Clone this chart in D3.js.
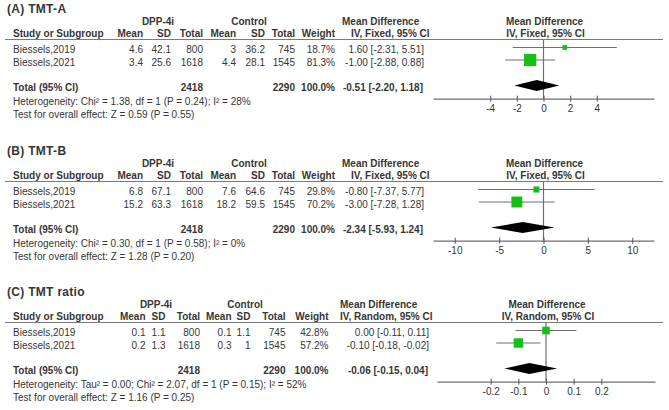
<!DOCTYPE html>
<html>
<head>
<meta charset="utf-8">
<script src="https://cdn.jsdelivr.net/npm/d3@7"></script>
<style>
  body { margin: 0; background: #fff; }
  svg { display: block; font-family: "Liberation Sans", Arial, sans-serif; }
  text { fill: #363636; }
  .bold { font-weight: bold; }
</style>
</head>
<body>
<svg width="669" height="410"></svg>
<script>
// data
var panelTitles = ["(A) TMT-A", "(B) TMT-B", "(C) TMT ratio"];
var studies = ["Biessels,2019", "Biessels,2021"];
var dppMean = [[4.6, 3.4], [6.8, 15.2], [0.1, 0.2]];
var dppSD = [[42.1, 25.6], [67.1, 63.3], [1.1, 1.3]];
var dppTotal = [800, 1618];
var ctlMean = [[3, 4.4], [7.6, 18.2], [0.1, 0.3]];
var ctlSD = [[36.2, 28.1], [64.6, 59.5], [1.1, 1]];
var ctlTotal = [745, 1545];
var weights = [[18.7, 81.3], [29.8, 70.2], [42.8, 57.2]];
var md = [[1.60, -1.00], [-0.80, -3.00], [0.00, -0.10]];
var ciLow = [[-2.31, -2.88], [-7.37, -7.28], [-0.11, -0.18]];
var ciHigh = [[5.51, 0.88], [5.77, 1.28], [0.11, -0.02]];
var totalMD = [-0.51, -2.34, -0.06];
var totalLow = [-2.20, -5.93, -0.15];
var totalHigh = [1.18, 1.24, 0.04];
var dppSum = 2418, ctlSum = 2290;
var methods = ["IV, Fixed, 95% CI", "IV, Fixed, 95% CI", "IV, Random, 95% CI"];
var heterogeneity = [
  "Heterogeneity: Chi\u00b2 = 1.38, df = 1 (P = 0.24); I\u00b2 = 28%",
  "Heterogeneity: Chi\u00b2 = 0.30, df = 1 (P = 0.58); I\u00b2 = 0%",
  "Heterogeneity: Tau\u00b2 = 0.00; Chi\u00b2 = 2.07, df = 1 (P = 0.15); I\u00b2 = 52%"
];
var overallEffect = [
  "Test for overall effect: Z = 0.59 (P = 0.55)",
  "Test for overall effect: Z = 1.28 (P = 0.20)",
  "Test for overall effect: Z = 1.16 (P = 0.25)"
];
var tickValues = [[-4, -2, 0, 2, 4], [-10, -5, 0, 5, 10], [-0.2, -0.1, 0, 0.1, 0.2]];
var axisDomains = [[-8.3, 8.3], [-12.45, 12.45], [-0.394, 0.394]];

var svg = d3.select("svg");

// layout per panel
var panelTop = [0, 142, 283];
var colRight = [
  [143, 171, 203, 236, 265, 295, 335],
  [143, 171, 203, 236, 265, 295, 335],
  [145.5, 165.5, 200, 231.5, 250.5, 285.5, 328.5]
];
var groupCenter = [[158, 249], [158, 249], [156, 245]];
var ciRight = [424, 424, 429];
var mdLeft = [[342, 351], [342, 351], [340, 340]];
var plotRange = [[433, 654], [433, 654], [437, 655]];
var colHeads = ["Mean", "SD", "Total", "Mean", "SD", "Total", "Weight"];

var boxSize = d3.scaleLinear().domain([0, 100]).range([2.5, 14.5]);

panelTitles.forEach(function(title, p) {
  var g = svg.append("g")
      .attr("transform", "translate(0," + panelTop[p] + ")");
  var cols = colRight[p];

  g.append("text")
      .attr("class", "bold")
      .attr("x", 7).attr("y", 13)
      .attr("font-size", "12px")
      .style("letter-spacing", "0.3px")
      .text(title);

  // group headers
  g.append("text").attr("class", "bold").attr("x", groupCenter[p][0]).attr("y", 25)
      .attr("text-anchor", "middle").attr("font-size", "10px").text("DPP-4i");
  g.append("text").attr("class", "bold").attr("x", groupCenter[p][1]).attr("y", 25)
      .attr("text-anchor", "middle").attr("font-size", "10px").text("Control");

  g.append("text").attr("class", "bold").attr("x", 13).attr("y", 37)
      .attr("font-size", "10px").text("Study or Subgroup");
  colHeads.forEach(function(h, i) {
    g.append("text").attr("class", "bold").attr("x", cols[i]).attr("y", 37)
        .attr("text-anchor", "end").attr("font-size", "10px").text(h);
  });

  g.append("text").attr("class", "bold").attr("x", mdLeft[p][0]).attr("y", 25)
      .attr("font-size", "10px").text("Mean Difference");
  g.append("text").attr("class", "bold").attr("x", mdLeft[p][1]).attr("y", 37)
      .attr("font-size", "10px").text(methods[p]);

  var x = d3.scaleLinear().domain(axisDomains[p]).range(plotRange[p]);
  var x0 = x(0);

  g.append("text").attr("class", "bold").attr("x", x0 + 1).attr("y", 25)
      .attr("text-anchor", "middle").attr("font-size", "10px").text("Mean Difference");
  g.append("text").attr("class", "bold").attr("x", x0 + 2).attr("y", 37)
      .attr("text-anchor", "middle").attr("font-size", "10px").text(methods[p]);

  // header rule
  g.append("line")
      .attr("x1", 5).attr("x2", 663)
      .attr("y1", 39.5).attr("y2", 39.5)
      .attr("stroke", "#7a7a7a").attr("stroke-width", 1.2);

  // study rows
  var rowBase = [53, 65.5];
  var markY = [47.5, 60];
  studies.forEach(function(s, i) {
    var vals = [dppMean[p][i], dppSD[p][i], dppTotal[i], ctlMean[p][i], ctlSD[p][i], ctlTotal[i],
                weights[p][i].toFixed(1) + "%"];
    g.append("text").attr("x", 13).attr("y", rowBase[i]).attr("font-size", "10px").text(s);
    vals.forEach(function(v, c) {
      g.append("text").attr("x", cols[c]).attr("y", rowBase[i])
          .attr("text-anchor", "end").attr("font-size", "10px").text(v);
    });
    g.append("text").attr("x", ciRight[p]).attr("y", rowBase[i])
        .attr("text-anchor", "end").attr("font-size", "10px")
        .text(md[p][i].toFixed(2) + " [" + ciLow[p][i].toFixed(2) + ", " + ciHigh[p][i].toFixed(2) + "]");
  });

  // total row
  g.append("text").attr("class", "bold").attr("x", 13).attr("y", 91)
      .attr("font-size", "10px").text("Total (95% CI)");
  [[2, dppSum], [5, ctlSum], [6, "100.0%"]].forEach(function(d) {
    g.append("text").attr("class", "bold").attr("x", cols[d[0]]).attr("y", 91)
        .attr("text-anchor", "end").attr("font-size", "10px").text(d[1]);
  });
  g.append("text").attr("class", "bold").attr("x", ciRight[p] - 1).attr("y", 91)
      .attr("text-anchor", "end").attr("font-size", "10px")
      .text(totalMD[p].toFixed(2) + " [" + totalLow[p].toFixed(2) + ", " + totalHigh[p].toFixed(2) + "]");

  g.append("text").attr("x", 13).attr("y", 104.5).attr("font-size", "10px").text(heterogeneity[p]);
  g.append("text").attr("x", 13).attr("y", 118).attr("font-size", "10px").text(overallEffect[p]);

  // forest plot
  var axisY = 98.7;
  g.append("line")
      .attr("x1", x0).attr("x2", x0)
      .attr("y1", 39.5).attr("y2", axisY)
      .attr("stroke", "#6e6e6e").attr("stroke-width", 1.2);

  studies.forEach(function(s, i) {
    g.append("line")
        .attr("x1", x(ciLow[p][i])).attr("x2", x(ciHigh[p][i]))
        .attr("y1", markY[i]).attr("y2", markY[i])
        .attr("stroke", "#6e6e6e").attr("stroke-width", 1);
    var sz = boxSize(weights[p][i]);
    g.append("rect")
        .attr("x", x(md[p][i]) - sz / 2).attr("y", markY[i] - sz / 2)
        .attr("width", sz).attr("height", sz)
        .attr("fill", "#14c014");
  });

  var dy = 85.5, hh = 5.5;
  g.append("path")
      .attr("d", "M" + x(totalLow[p]) + "," + dy +
                 "L" + x(totalMD[p]) + "," + (dy - hh) +
                 "L" + x(totalHigh[p]) + "," + dy +
                 "L" + x(totalMD[p]) + "," + (dy + hh) + "Z")
      .attr("fill", "#000");

  var ax = g.append("g")
      .attr("transform", "translate(0," + axisY + ")")
      .call(d3.axisBottom(x).tickValues(tickValues[p]).tickSizeOuter(0)
            .tickFormat(function(d) { return String(d); }));
  ax.select(".domain").attr("stroke", "#6e6e6e").attr("stroke-width", 1.2);
  ax.selectAll(".tick line").attr("y1", -3).attr("y2", 3).attr("stroke", "#555");
  ax.selectAll(".tick text")
      .attr("y", 13.5).attr("dy", null)
      .attr("font-size", "10px")
      .attr("font-family", "\"Liberation Sans\", Arial, sans-serif")
      .style("fill", "#363636");
});
</script>
</body>
</html>
